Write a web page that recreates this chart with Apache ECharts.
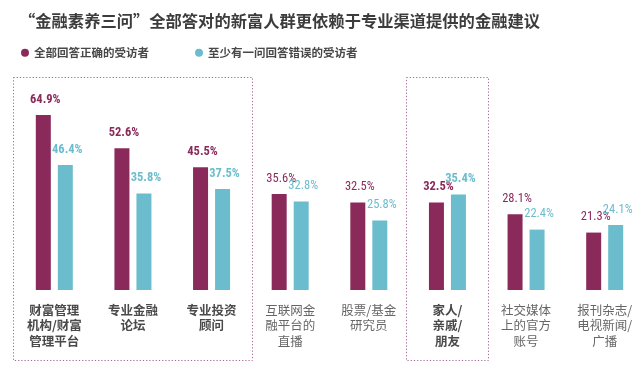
<!DOCTYPE html>
<html><head><meta charset="utf-8">
<script src="https://cdn.jsdelivr.net/npm/echarts@6/dist/echarts.min.js"></script>
<style>html,body{margin:0;padding:0;background:#fff}#c{width:644px;height:370px}</style>
</head><body><div id="c"></div>
<script>
const categories = ['财富管理\n机构/财富\n管理平台','专业金融\n论坛','专业投资\n顾问','互联网金\n融平台的\n直播','股票/基金\n研究员','家人/\n亲戚/\n朋友','社交媒体\n上的官方\n账号','报刊杂志/\n电视新闻/\n广播'];
const allCorrect = [64.9, 52.6, 45.5, 35.6, 32.5, 32.5, 28.1, 21.3];
const someWrong = [46.4, 35.8, 37.5, 32.8, 25.8, 35.4, 22.4, 24.1];
const seriesNames = ['全部回答正确的受访者', '至少有一问回答错误的受访者'];
const highlighted = [0, 1, 2, 5];
const boxedGroups = [[0, 2], [5, 5]];

const MAG = '#8a2a5b', CYAN = '#6bbdce';
const CJK = '"Noto Sans CJK SC", sans-serif';
const NUM = '"Roboto Condensed", "DejaVu Sans Condensed", "Liberation Sans Narrow", Roboto, sans-serif';

function mk(vals) {
  return vals.map((v, i) => ({
    value: v,
    label: { fontWeight: highlighted.includes(i) ? 'bold' : 'normal' }
  }));
}

const chart = echarts.init(document.getElementById('c'), null, {renderer: 'canvas'});
chart.setOption({
  animation: false,
  backgroundColor: '#fff',
  title: {
    text: '“金融素养三问”全部答对的新富人群更依赖于专业渠道提供的金融建议',
    left: 14, top: 8,
    textStyle: {fontFamily: CJK, fontSize: 16.3, fontWeight: 'bold', color: '#3c3c3c'}
  },
  legend: {
    left: 16, top: 42,
    icon: 'circle', itemWidth: 8, itemHeight: 8, itemGap: 46, itemTextGap: 8,
    textStyle: {fontFamily: CJK, fontSize: 11.5, fontWeight: 'bold', color: '#484848'},
    data: seriesNames
  },
  grid: {left: 15, right: -2.5, top: 20.4, bottom: 80},
  xAxis: {
    type: 'category', data: categories,
    axisLine: {show: false}, axisTick: {show: false},
    axisLabel: {
      interval: 0, margin: 12,
      formatter: (v, i) => v.split('\n').map(s => (highlighted.includes(i) ? '{b|' : '{n|') + s + '}').join('\n'),
      rich: {
        b: {fontFamily: CJK, fontSize: 12.5, fontWeight: 'bold', color: '#4a4a4a', lineHeight: 15.5},
        n: {fontFamily: CJK, fontSize: 12.5, fontWeight: 'normal', color: '#666', lineHeight: 15.5}
      }
    }
  },
  yAxis: {type: 'value', min: 0, max: 100, show: false, splitLine: {show: false}},
  series: [
    {
      name: seriesNames[0], type: 'bar', data: mk(allCorrect), barWidth: 15, barGap: '46.7%',
      itemStyle: {color: MAG},
      label: {show: true, position: 'top', distance: 9, offset: [2, 0], formatter: '{c}%', color: MAG, fontFamily: NUM, fontSize: 12.5}
    },
    {
      name: seriesNames[1], type: 'bar', data: mk(someWrong), barWidth: 15, barGap: '46.7%',
      itemStyle: {color: CYAN},
      label: {show: true, position: 'top', distance: 9, offset: [2, 0], formatter: '{c}%', color: CYAN, fontFamily: NUM, fontSize: 12.5}
    }
  ]
});

const c0 = chart.convertToPixel({xAxisIndex: 0}, 0);
const c1 = chart.convertToPixel({xAxisIndex: 0}, 1);
const band = c1 - c0;
chart.setOption({
  graphic: boxedGroups.map(([a, b]) => {
    const x1 = chart.convertToPixel({xAxisIndex: 0}, a) - band / 2 - 2;
    const x2 = chart.convertToPixel({xAxisIndex: 0}, b) + band / 2 + 1;
    return {
      type: 'rect', silent: true,
      shape: {x: Math.round(x1) + 0.5, y: 77.5, width: Math.round(x2 - x1), height: 283},
      style: {fill: 'none', stroke: '#a5668a', lineWidth: 1, lineDash: [1.2, 2]}
    };
  })
});
</script></body></html>
